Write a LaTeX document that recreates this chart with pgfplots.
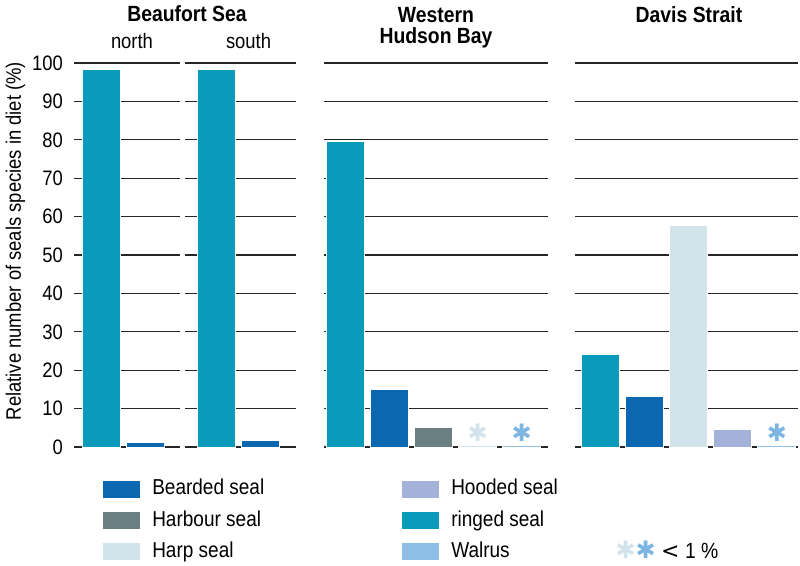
\documentclass[border=0pt]{standalone}
\usepackage{pgfplots}
\pgfplotsset{compat=1.18}
\usepackage{fontspec}
\setmainfont{Liberation Sans}[FakeStretch=0.88]
\newfontfamily\symfont{DejaVu Sans}

\definecolor{ringed}{HTML}{0A9BBB}
\definecolor{beard}{HTML}{0B67AF}
\definecolor{harbour}{HTML}{6B8083}
\definecolor{harp}{HTML}{D3E3EB}
\definecolor{hooded}{HTML}{A4B2D9}
\definecolor{walrus}{HTML}{8EBEE4}
\definecolor{starblue}{HTML}{7DB5E2}

\newcommand{\basefont}{\fontsize{15.7}{18}\selectfont}
\newcommand{\titlefont}{\fontsize{16.5}{19}\selectfont\bfseries}

\pgfplotsset{
  panel/.style={
    scale only axis, x=33pt, y=2.88pt,
    ymin=0, ymax=100, ytick={0,10,...,100}, xtick=\empty,
    ymajorgrids, grid style={line width=1pt, color=black!85},
    axis line style={draw=none}, major tick style={draw=none},
    yticklabels={}, clip=false,
    anchor=south west,
  },
  sbar/.style={ybar, bar width=28.5pt, bar shift=0pt,
    draw=white, line width=0.75pt, fill=#1},
  star/.style={nodes near coords={\symfont ✱},
    nodes near coords style={anchor=center, yshift=9.5pt, text=#1,
      font=\fontsize{18}{18}\selectfont}},
}

\begin{document}
\begin{tikzpicture}
\useasboundingbox (0,0) rectangle (600pt,423.75pt);

% Beaufort Sea, north
\begin{axis}[panel, at={(55.5pt,88.5pt)}, xmin=-0.625, xmax=1.784,
  yticklabels={0,10,20,30,40,50,60,70,80,90,100},
  /pgf/number format/assume math mode=true,
  yticklabel style={font=\basefont, xshift=-4.75pt},
  legend image code/.code={\draw[#1, draw=white, line width=0.5pt] (0pt,-6.75pt) rectangle (28.5pt,6.75pt);},
  legend columns=2,
  legend style={at={(axis description cs:0.261,-0.075)}, anchor=north west,
    draw=none, fill=none, inner sep=0pt, font=\fontsize{16.2}{18}\selectfont,
    nodes={text height=12pt, text depth=3.5pt},
    row sep=4pt,
    /tikz/every odd column/.append style={column sep=6.75pt}},
  legend cell align=left,
]
\addplot[sbar=ringed, forget plot] coordinates {(0,98.2)};
\addplot[sbar=beard, forget plot] coordinates {(1,1.1)};
\addlegendimage{fill=beard}
\addlegendentry{\makebox[184.5pt][l]{Bearded seal}}
\addlegendimage{fill=hooded}
\addlegendentry{Hooded seal}
\addlegendimage{fill=harbour}
\addlegendentry{\makebox[184.5pt][l]{Harbour seal}}
\addlegendimage{fill=ringed}
\addlegendentry{ringed seal}
\addlegendimage{fill=harp}
\addlegendentry{\makebox[184.5pt][l]{Harp seal}}
\addlegendimage{fill=walrus}
\addlegendentry{Walrus}
\end{axis}

% Beaufort Sea, south
\begin{axis}[panel, at={(138.75pt,88.5pt)}, xmin=-0.716, xmax=1.807]
\addplot[sbar=ringed] coordinates {(0,98.2)};
\addplot[sbar=beard] coordinates {(1,1.6)};
\end{axis}

% Western Hudson Bay
\begin{axis}[panel, at={(243pt,88.5pt)}, xmin=-0.49, xmax=4.59]
\addplot[sbar=ringed] coordinates {(0,79.5)};
\addplot[sbar=beard] coordinates {(1,15.1)};
\addplot[sbar=harbour] coordinates {(2,5.0)};
\addplot[sbar=harp, star=harp] coordinates {(3,0.4)};
\addplot[sbar=walrus, star=starblue] coordinates {(4,0.4)};
\end{axis}

% Davis Strait
\begin{axis}[panel, at={(431.25pt,88.5pt)}, xmin=-0.59, xmax=4.48]
\addplot[sbar=ringed] coordinates {(0,24.2)};
\addplot[sbar=beard] coordinates {(1,13.1)};
\addplot[sbar=harp] coordinates {(2,57.8)};
\addplot[sbar=hooded] coordinates {(3,4.6)};
\addplot[sbar=walrus, star=starblue] coordinates {(4,0.4)};
\end{axis}

% titles and labels
\node[anchor=base, font=\titlefont] at (140.25pt,407.25pt) {Beaufort Sea};
\node[anchor=base, font=\basefont] at (99pt,387pt) {north};
\node[anchor=base, font=\basefont] at (186.4pt,387pt) {south};
\node[anchor=base, font=\titlefont] at (327pt,406.5pt) {Western};
\node[anchor=base, font=\titlefont] at (327pt,390.75pt) {Hudson Bay};
\node[anchor=base, font=\titlefont] at (516.75pt,406.5pt) {Davis Strait};
\node[anchor=base, rotate=90, font=\basefont] at (15.75pt,243pt)
  {Relative number of seals species in diet (\%)};
\node[anchor=base west, font=\fontsize{16.5}{18}\selectfont, inner sep=0pt] at (461.5pt,5.25pt)
  {{\symfont\fontsize{18}{18}\selectfont\textcolor{harp}{✱}\textcolor{starblue}{✱}}\ {\symfont<}\ 1\ \%};
\end{tikzpicture}
\end{document}
